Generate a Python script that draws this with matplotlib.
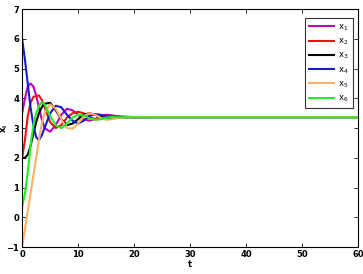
import numpy as np
import matplotlib
matplotlib.use('Agg')
import matplotlib.pyplot as plt

t = [0, 0.5, 1, 1.5, 2, 2.5, 3, 3.5, 4, 5, 6, 7, 8, 9, 10, 11, 12, 13, 14, 15, 16, 18, 20, 25, 30, 40, 50, 60]

x1 = [3.5, 4.0, 4.4, 4.5, 4.4, 4.1, 3.7, 3.3, 3.0, 2.88, 3.1, 3.45, 3.65, 3.6, 3.45, 3.3, 3.25, 3.3, 3.4, 3.45, 3.43, 3.37, 3.36, 3.37, 3.37, 3.37, 3.37, 3.37]
x2 = [2.0, 2.6, 3.4, 3.85, 4.05, 4.08, 4.1, 3.95, 3.7, 3.2, 3.0, 3.1, 3.35, 3.5, 3.55, 3.5, 3.38, 3.3, 3.3, 3.35, 3.4, 3.39, 3.37, 3.37, 3.37, 3.37, 3.37, 3.37]
x3 = [2.0, 2.0, 2.1, 2.4, 2.8, 3.2, 3.5, 3.7, 3.82, 3.85, 3.6, 3.3, 3.1, 3.15, 3.3, 3.45, 3.5, 3.45, 3.38, 3.33, 3.34, 3.37, 3.37, 3.37, 3.37, 3.37, 3.37, 3.37]
x4 = [6.0, 5.3, 4.5, 3.7, 3.1, 2.7, 2.6, 2.75, 3.0, 3.5, 3.75, 3.7, 3.45, 3.25, 3.15, 3.25, 3.4, 3.47, 3.45, 3.4, 3.37, 3.36, 3.37, 3.37, 3.37, 3.37, 3.37, 3.37]
x5 = [-1.0, -0.4, 0.2, 0.8, 1.4, 2.0, 2.6, 3.15, 3.5, 3.8, 3.65, 3.3, 3.0, 2.98, 3.15, 3.4, 3.5, 3.45, 3.35, 3.28, 3.3, 3.36, 3.37, 3.37, 3.37, 3.37, 3.37, 3.37]
x6 = [0.35, 0.8, 1.5, 2.4, 3.1, 3.5, 3.75, 3.87, 3.8, 3.4, 3.1, 3.0, 3.15, 3.35, 3.45, 3.42, 3.33, 3.28, 3.3, 3.35, 3.37, 3.36, 3.36, 3.36, 3.36, 3.36, 3.36, 3.36]

series = [x1, x2, x3, x4, x5, x6]
labels = ['$\\mathregular{x_1}$', '$\\mathregular{x_2}$', '$\\mathregular{x_3}$',
          '$\\mathregular{x_4}$', '$\\mathregular{x_5}$', '$\\mathregular{x_6}$']
colors = ['#c000c0', '#ee1111', '#000000', '#1a1acc', '#ffb060', '#22ee22']

fig = plt.figure(figsize=(3.63, 2.74), dpi=100)
ax = fig.add_axes([0.061, 0.0985, 0.925, 0.868])

for s, lab, c in zip(series, labels, colors):
    ax.plot(t, s, color=c, lw=1.5, label=lab)

ax.set_xlim(0, 60)
ax.set_ylim(-1, 7)
ax.set_xticks([0, 10, 20, 30, 40, 50, 60])
ax.set_yticks(range(-1, 8))
ax.set_yticklabels(['\u22121'] + [str(i) for i in range(0, 8)])
ax.tick_params(direction='in', top=True, right=True, labelsize=6, length=3, width=0.6, pad=2)
for lab in ax.get_xticklabels() + ax.get_yticklabels():
    lab.set_fontweight('bold')
for sp in ax.spines.values():
    sp.set_linewidth(0.8)
ax.set_xlabel('t', fontsize=6, fontweight='bold', labelpad=1)
ax.set_ylabel('$\\mathbf{x_i}$', fontsize=6)
ax.yaxis.set_label_coords(-0.035, 0.5)

leg = ax.legend(loc='upper right', bbox_to_anchor=(1 - 5 / 336, 1 - 9 / 238),
                borderaxespad=0, fontsize=6, frameon=True, fancybox=False,
                edgecolor='black', handlelength=3.0, labelspacing=0.45,
                handletextpad=0.5, borderpad=0.5)
leg.get_frame().set_linewidth(0.8)

fig.savefig('out.png', dpi=100)
